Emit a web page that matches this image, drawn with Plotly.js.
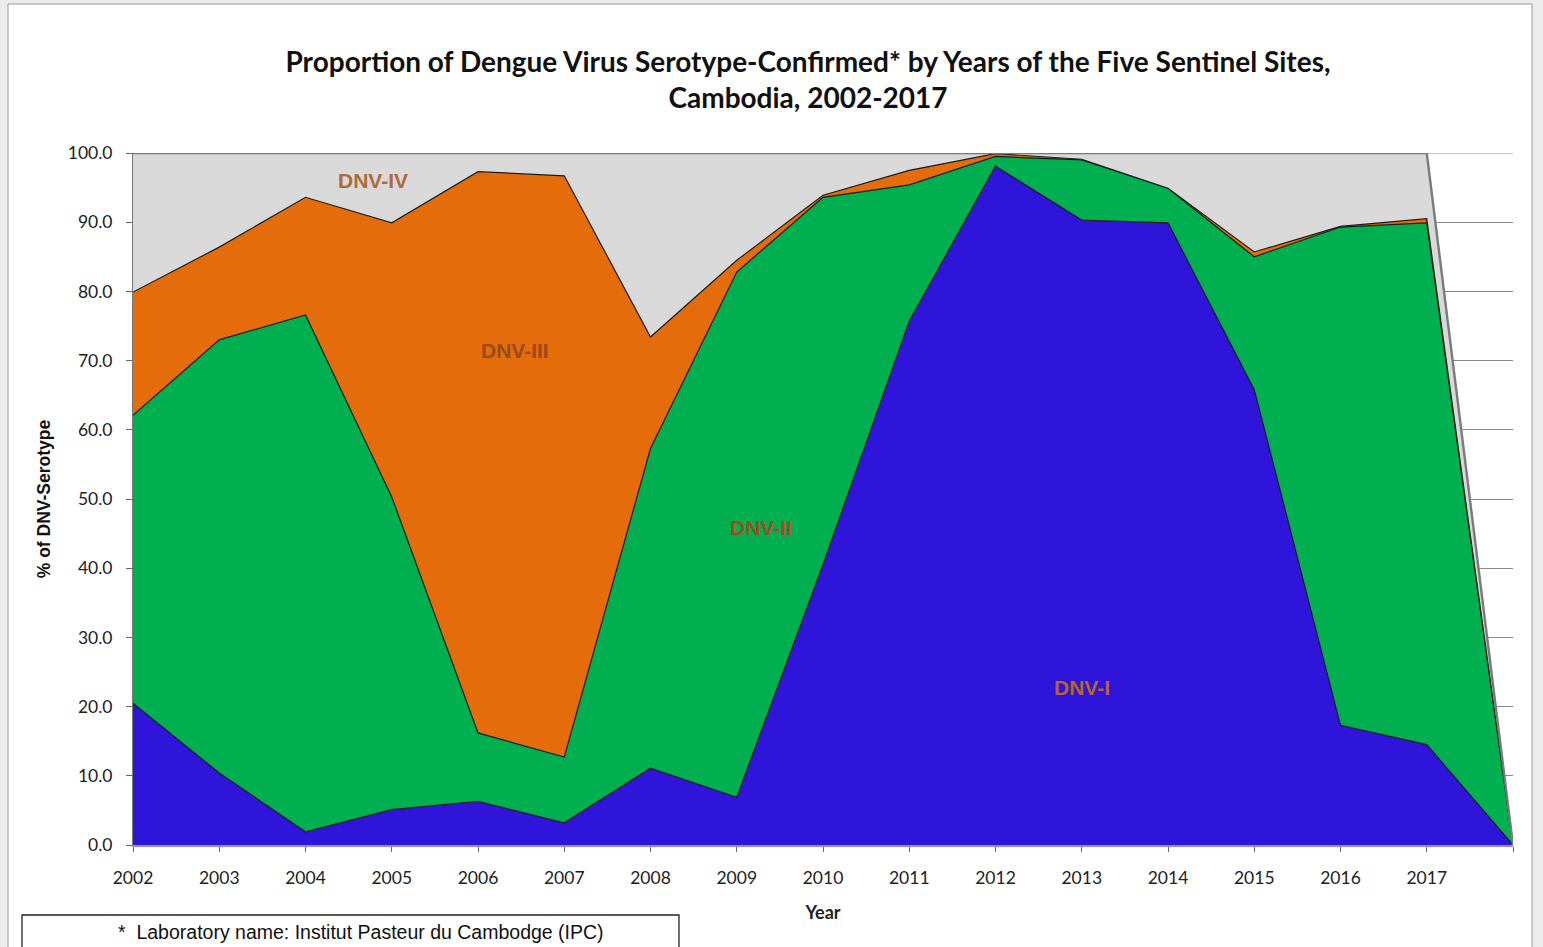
<!DOCTYPE html>
<html>
<head>
<meta charset="utf-8">
<script src="https://cdn.plot.ly/plotly-3.0.1.min.js"></script>
<style>
  html, body { margin: 0; padding: 0; background: #ffffff; }
  #chart { width: 1543px; height: 947px; }
</style>
</head>
<body>
<div id="chart"></div>
<script>
// ---- Data ----
const years = [2002, 2003, 2004, 2005, 2006, 2007, 2008, 2009, 2010, 2011, 2012, 2013, 2014, 2015, 2016, 2017, 2018];
const dnv1 = [20.5, 10.4, 1.9, 5.1, 6.3, 3.2, 11.1, 6.9, 40.5, 75.7, 98.1, 90.3, 89.9, 65.8, 17.3, 14.5, 0];
const dnv2 = [41.6, 62.6, 74.7, 45.2, 9.9, 9.5, 46.2, 75.9, 53.1, 19.7, 1.4, 8.7, 5.0, 19.2, 72.0, 75.4, 0];
const dnv3 = [17.8, 13.4, 17.0, 39.6, 81.1, 84.0, 16.1, 1.7, 0.3, 2.1, 0.4, 0.1, 0.0, 0.7, 0.1, 0.6, 0];
const dnv4 = [20.1, 13.6, 6.4, 10.1, 2.7, 3.3, 26.6, 15.5, 6.1, 2.5, 0.1, 0.9, 5.1, 14.3, 10.6, 9.5, 0];
const tickYears = [2002, 2003, 2004, 2005, 2006, 2007, 2008, 2009, 2010, 2011, 2012, 2013, 2014, 2015, 2016, 2017, 2018];
const tickYearLabels = ["2002", "2003", "2004", "2005", "2006", "2007", "2008", "2009", "2010", "2011", "2012", "2013", "2014", "2015", "2016", "2017", ""];
const seriesNames = ["DNV-I", "DNV-II", "DNV-III", "DNV-IV"];
const seriesColors = ["#2f14d9", "#00b050", "#e46c0a", "#d9d9d9"];
// label anchors (year, %) for in-area series labels
const labelX = [2013.0, 2009.28, 2006.43, 2004.78];
const labelY = [22.7, 45.9, 71.4, 96.0];
const labelColors = ["#b5652e", "#9a4f22", "#9a4a14", "#b06a3a"];

const seriesValues = [dnv1, dnv2, dnv3, dnv4];
const lineColors = ["#1a1a1a", "#1a1a1a", "#1a1a1a", "#7a7a7a"];
const lineWidths = [1.2, 1.2, 1.2, 2.4];

const traces = seriesValues.map((vals, i) => ({
  type: 'scatter',
  mode: 'lines',
  x: years,
  y: vals,
  name: seriesNames[i],
  stackgroup: 'one',
  fillcolor: seriesColors[i],
  line: { color: lineColors[i], width: lineWidths[i], shape: 'linear' },
  hoverinfo: 'x+y+name'
}));

const annotations = seriesNames.map((n, i) => ({
  x: labelX[i], y: labelY[i], xref: 'x', yref: 'y',
  text: '<b>' + n + '</b>', showarrow: false,
  font: { family: 'Liberation Sans, Arial, sans-serif', size: 21, color: labelColors[i] }
}));

annotations.push({
  xref: 'paper', yref: 'paper', x: (116 - 133) / 1380, y: (845 - 932) / 692,
  xanchor: 'left', yanchor: 'middle', showarrow: false,
  text: '*  Laboratory name: Institut Pasteur du Cambodge (IPC)',
  font: { family: 'Liberation Sans Narrow, Liberation Sans, Arial, sans-serif', size: 19.5, color: '#111' }
});

const shapes = [
  // outer chart frame
  { type: 'rect', xref: 'paper', yref: 'paper', layer: 'below',
    x0: (8 - 133) / 1380, x1: (1532 - 133) / 1380, y0: (845 - 960) / 692, y1: (845 - 4) / 692,
    fillcolor: '#ffffff', line: { color: '#9a9a9a', width: 1 } },
  // top gridline at 100 (range edge)
  { type: 'line', xref: 'paper', yref: 'y', layer: 'below',
    x0: 0, x1: 1, y0: 100, y1: 100, line: { color: '#8a8a8a', width: 1 } },
  // footnote box
  { type: 'rect', xref: 'paper', yref: 'paper', layer: 'above',
    x0: (22 - 133) / 1380, x1: (679 - 133) / 1380, y0: (845 - 960) / 692, y1: (845 - 915) / 692,
    fillcolor: 'rgba(0,0,0,0)', line: { color: '#222', width: 1.3 } }
];

const layout = {
  width: 1543, height: 947,
  paper_bgcolor: '#ececec',
  plot_bgcolor: '#ffffff',
  margin: { l: 133, r: 30, t: 153, b: 102, pad: 0 },
  showlegend: false,
  title: {
    text: '<b>Proportion of Dengue Virus Serotype-Confirmed* by Years of the Five Sentinel Sites,<br>Cambodia, 2002-2017</b>',
    x: 808 / 1543, xanchor: 'center', xref: 'container',
    y: 1 - 72 / 947, yanchor: 'top', yref: 'container',
    font: { family: 'Lato, Open Sans, sans-serif', size: 28, color: '#111' }
  },
  xaxis: {
    range: [2002, 2018],
    tickmode: 'array', tickvals: tickYears, ticktext: tickYearLabels,
    ticks: 'outside', ticklen: 5, tickcolor: '#666', tickwidth: 1,
    ticklabelstandoff: 11,
    showgrid: false, zeroline: false,
    showline: true, linecolor: '#8f8fcf', linewidth: 1.5,
    tickfont: { family: 'Lato, Open Sans, sans-serif', size: 17.5, color: '#222' },
    title: { text: '<b>Year</b>', standoff: 20,
      font: { family: 'Lato, Open Sans, sans-serif', size: 18, color: '#222' } }
  },
  yaxis: {
    range: [0, 100],
    tickmode: 'linear', tick0: 0, dtick: 10, tickformat: '.1f',
    ticks: 'outside', ticklen: 6, tickcolor: '#666', tickwidth: 1,
    ticklabelstandoff: 10,
    showgrid: true, gridcolor: '#8a8a8a', gridwidth: 1,
    zeroline: false,
    showline: true, linecolor: '#777', linewidth: 1,
    tickfont: { family: 'Lato, Open Sans, sans-serif', size: 17.5, color: '#222' },
    title: { text: '<b>% of DNV-Serotype</b>', standoff: 12,
      font: { family: 'Liberation Sans, Arial, sans-serif', size: 17.5, color: '#111' } }
  },
  annotations: annotations,
  shapes: shapes
};

Plotly.newPlot('chart', traces, layout, { displayModeBar: false, staticPlot: true });
</script>
</body>
</html>
